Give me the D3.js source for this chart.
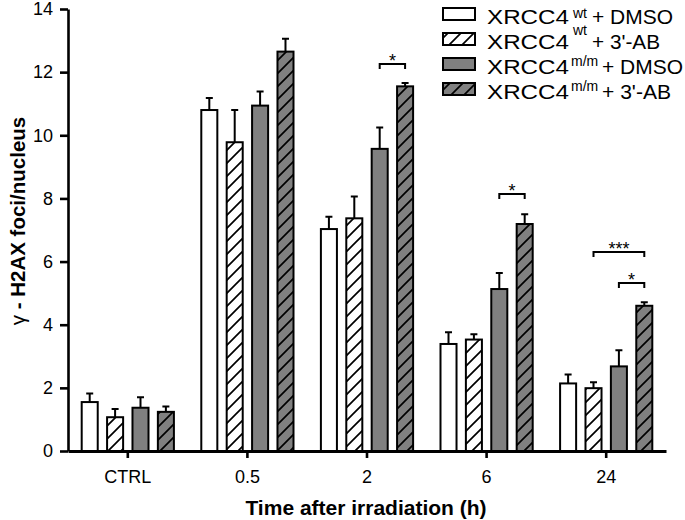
<!DOCTYPE html>
<html>
<head>
<meta charset="utf-8">
<script src="https://cdn.jsdelivr.net/npm/d3@7"></script>
<style>
  html, body { margin: 0; padding: 0; background: #fff; }
  svg { display: block; font-family: "Liberation Sans", Arial, Helvetica, sans-serif; }
</style>
</head>
<body>
<svg id="chart" width="685" height="520"></svg>
<script>
// ---------------- data ----------------
const categories = ["CTRL", "0.5", "2", "6", "24"];
const seriesKeys = ["wtDMSO", "wtAB", "mmDMSO", "mmAB"];
const seriesBase = ["XRCC4", "XRCC4", "XRCC4", "XRCC4"];
const seriesSup = ["wt", "wt", "m/m", "m/m"];
const seriesTreat = ["+ DMSO", "+ 3'-AB", "+ DMSO", "+ 3'-AB"];

const wtDMSO = [1.55, 10.80, 7.03, 3.39, 2.14];
const wtAB   = [1.07, 9.78, 7.37, 3.53, 1.99];
const mmDMSO = [1.37, 10.94, 9.57, 5.13, 2.68];
const mmAB   = [1.24, 12.65, 11.55, 7.19, 4.60];

const wtDMSOErr = [0.27, 0.38, 0.39, 0.37, 0.28];
const wtABErr   = [0.26, 1.02, 0.69, 0.17, 0.19];
const mmDMSOErr = [0.33, 0.45, 0.68, 0.51, 0.51];
const mmABErr   = [0.17, 0.41, 0.11, 0.31, 0.11];

const yTicks = [0, 2, 4, 6, 8, 10, 12, 14];

// significance brackets: category, from series, to series, level, label
const sigCategory = ["2", "6", "24", "24"];
const sigFrom = [2, 2, 1, 2];
const sigTo = [3, 3, 3, 3];
const sigLevel = [12.26, 8.14, 6.30, 5.32];
const sigLabel = ["*", "*", "***", "*"];

const yTitle = "H2AX foci/nucleus";
const xTitle = "Time after irradiation (h)";

// ---------------- layout ----------------
const values = [wtDMSO, wtAB, mmDMSO, mmAB];
const errs = [wtDMSOErr, wtABErr, mmDMSOErr, mmABErr];
const fills = ["#ffffff", "url(#hatchWhite)", "#808080", "url(#hatchGray)"];

const svg = d3.select("#chart");
const plotL = 68, plotR = 666, plotT = 9, plotB = 451;

const x0 = d3.scaleBand().domain(categories).range([plotL, plotR]).paddingInner(0).paddingOuter(0);
const x1 = d3.scaleBand().domain(seriesKeys).range([0, x0.bandwidth()]).paddingInner(0.29).paddingOuter(0.5);
const y = d3.scaleLinear().domain([0, 14]).range([plotB, plotT]);

// patterns
const defs = svg.append("defs");
function hatch(id, bg) {
  const p = defs.append("pattern").attr("id", id).attr("patternUnits", "userSpaceOnUse")
    .attr("width", 13).attr("height", 13);
  p.append("rect").attr("width", 13).attr("height", 13).attr("fill", bg);
  p.append("path").attr("d", "M-2,15 L15,-2 M-4,4 L4,-4 M9,17 L17,9")
    .attr("stroke", "#000").attr("stroke-width", 1.7);
}
hatch("hatchWhite", "#ffffff");
hatch("hatchGray", "#808080");

// data rows
const rows = [];
categories.forEach((c, ci) => {
  seriesKeys.forEach((k, si) => {
    rows.push({ cat: c, key: k, si, v: values[si][ci], e: errs[si][ci] });
  });
});

const cx = d => x0(d.cat) + x1(d.key) + x1.bandwidth() / 2;

// error bars
const eb = svg.append("g").attr("stroke", "#000").attr("stroke-width", 2).attr("fill", "none");
eb.selectAll("path").data(rows).join("path")
  .attr("d", d => `M${cx(d)},${y(d.v)}V${y(d.v + d.e)}M${cx(d) - 3.5},${y(d.v + d.e)}H${cx(d) + 3.5}`);

// bars
svg.append("g").selectAll("rect").data(rows).join("rect")
  .attr("x", d => x0(d.cat) + x1(d.key) + 1)
  .attr("width", x1.bandwidth() - 2)
  .attr("y", d => y(d.v))
  .attr("height", d => y(0) - y(d.v))
  .attr("fill", d => fills[d.si])
  .attr("stroke", "#000")
  .attr("stroke-width", 2);

// axes
const yAxis = d3.axisLeft(y).tickValues(yTicks).tickSizeInner(8).tickSizeOuter(0).tickPadding(7);
const gy = svg.append("g").attr("transform", `translate(${plotL},0)`).call(yAxis);
gy.select(".domain").attr("stroke-width", 2.6);
gy.selectAll(".tick line").attr("stroke-width", 2.6);
gy.selectAll(".tick text").attr("font-size", 18).attr("font-family", "Liberation Sans, Arial, sans-serif").attr("fill", "#000");

const xAxis = d3.axisBottom(x0).tickSizeInner(7).tickSizeOuter(0).tickPadding(12);
const gx = svg.append("g").attr("transform", `translate(0,${plotB})`).call(xAxis);
gx.select(".domain").attr("stroke-width", 2.8);
gx.selectAll(".tick line").attr("stroke-width", 2.6);
gx.selectAll(".tick text").attr("font-size", 18).attr("font-family", "Liberation Sans, Arial, sans-serif").attr("fill", "#000");

// axis titles
svg.append("text")
  .attr("x", (plotL + plotR) / 2 - 1).attr("y", 515)
  .attr("text-anchor", "middle").attr("font-weight", "bold").attr("font-size", 21)
  .text(xTitle);

const yt = svg.append("text")
  .attr("transform", "translate(25,221) rotate(-90)")
  .attr("text-anchor", "middle").attr("font-size", 20.5);
yt.append("tspan").attr("font-weight", "normal").text("\u03b3");
yt.append("tspan").attr("font-weight", "bold").text(" - " + yTitle);

// significance brackets
const sg = svg.append("g");
sigLabel.forEach((lab, i) => {
  const c = sigCategory[i];
  const xa = x0(c) + x1(seriesKeys[sigFrom[i]]) + x1.bandwidth() / 2;
  const xb = x0(c) + x1(seriesKeys[sigTo[i]]) + x1.bandwidth() / 2;
  const yy = y(sigLevel[i]);
  sg.append("path").attr("d", `M${xa},${yy + 5}V${yy}H${xb}V${yy + 5}`)
    .attr("fill", "none").attr("stroke", "#000").attr("stroke-width", 2);
  sg.append("text").attr("x", (xa + xb) / 2).attr("y", yy + 3)
    .attr("text-anchor", "middle").attr("font-size", 18).text(lab);
});

// legend
const supDy = [-6.5, -14, -8.5, -8.5];
const supX = [573, 573, 571, 571];
const treatX = [592, 592, 602, 602];
const treatLen = [81, 68, 81, 69];
const lg = svg.append("g");
seriesKeys.forEach((k, i) => {
  lg.append("rect").attr("x", 443).attr("y", 8 + 25 * i).attr("width", 32).attr("height", 12)
    .attr("fill", fills[i]).attr("stroke", "#000").attr("stroke-width", 2);
  const by = 24 + 25 * i;
  const t = lg.append("text").attr("x", 487).attr("y", by).attr("font-size", 21);
  t.append("tspan").attr("textLength", 82).attr("lengthAdjust", "spacingAndGlyphs").text(seriesBase[i]);
  t.append("tspan").attr("x", supX[i]).attr("dy", supDy[i]).attr("font-size", 14).text(seriesSup[i]);
  t.append("tspan").attr("x", treatX[i]).attr("y", by)
    .attr("textLength", treatLen[i]).attr("lengthAdjust", "spacingAndGlyphs").text(seriesTreat[i]);
});
</script>
</body>
</html>
